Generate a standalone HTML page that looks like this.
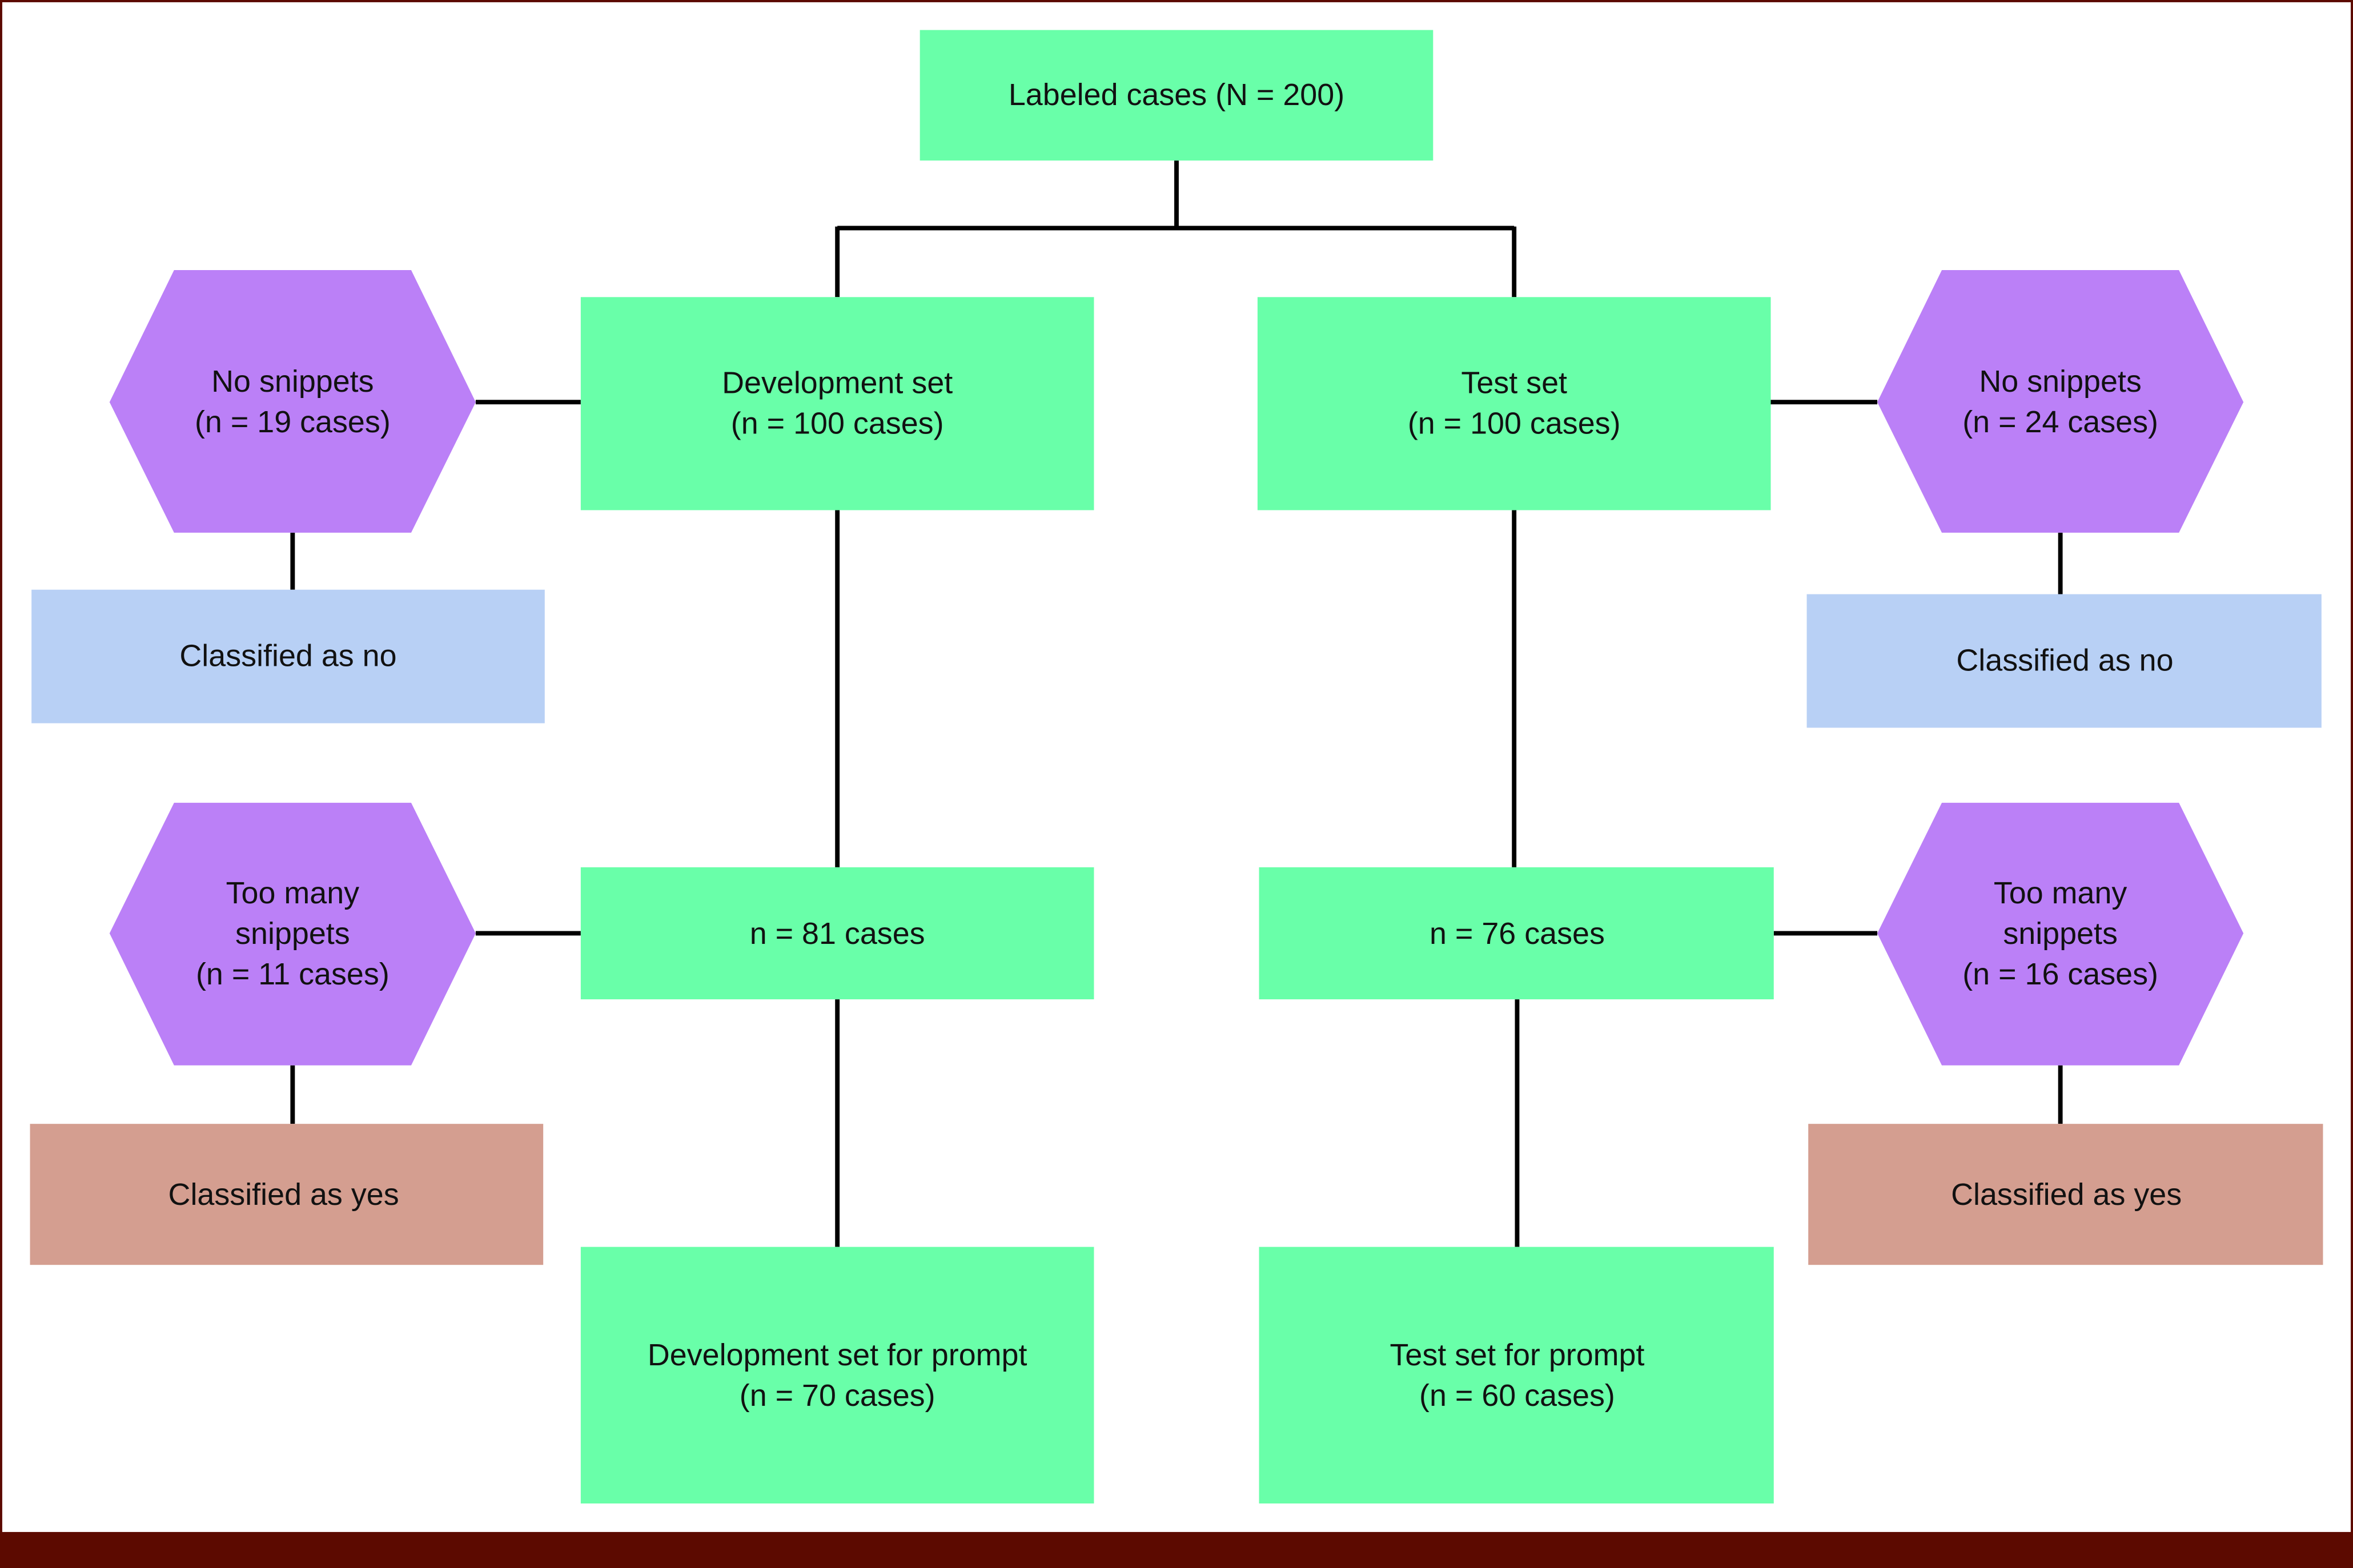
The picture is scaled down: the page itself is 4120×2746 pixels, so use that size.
<!DOCTYPE html>
<html><head><meta charset="utf-8">
<style>
html,body{margin:0;padding:0;background:#fff;}
svg{display:block;}
text{font-family:"Liberation Sans",sans-serif;font-size:20.5px;fill:#111;text-anchor:middle;}
</style></head>
<body>
<svg width="4120" height="2746" viewBox="0 0 1568 1045" preserveAspectRatio="none" xmlns="http://www.w3.org/2000/svg">
<rect x="0" y="0" width="1568" height="1045" fill="#fff"/>
<rect x="0.75" y="0.75" width="1566.5" height="1043" fill="none" stroke="#5c0a00" stroke-width="1.5"/>
<rect x="0" y="1021" width="1568" height="24" fill="#5c0a00"/>
<g stroke="#000" stroke-width="3" fill="none">
<path d="M784 107V152M558 152H1009M558 151V198M1009 151V198"/>
<path d="M317 268H387M1180 268H1251M195 355V393M1373 355V396"/>
<path d="M558 340V578M1009 340V578"/>
<path d="M317 622H387M1182 622H1251M195 710V749M1373 710V749"/>
<path d="M558 666V831M1011 666V831"/>
</g>
<g fill="#69ffa9">
<rect x="613" y="20" width="342" height="87"/>
<rect x="387" y="198" width="342" height="142"/>
<rect x="838" y="198" width="342" height="142"/>
<rect x="387" y="578" width="342" height="88"/>
<rect x="839" y="578" width="343" height="88"/>
<rect x="387" y="831" width="342" height="171"/>
<rect x="839" y="831" width="343" height="171"/>
</g>
<g fill="#bb80f7">
<polygon points="73,268 116,180 274,180 317,268 274,355 116,355"/>
<polygon points="1251,268 1294,180 1452,180 1495,268 1452,355 1294,355"/>
<polygon points="73,622 116,535 274,535 317,622 274,710 116,710"/>
<polygon points="1251,622 1294,535 1452,535 1495,622 1452,710 1294,710"/>
</g>
<rect x="21" y="393" width="342" height="89" fill="#b8d0f5"/>
<rect x="1204" y="396" width="343" height="89" fill="#b8d0f5"/>
<rect x="20" y="749" width="342" height="94" fill="#d49e90"/>
<rect x="1205" y="749" width="343" height="94" fill="#d49e90"/>

<text x="784" y="70">Labeled cases (N = 200)</text>
<text x="558" y="262">Development set</text><text x="558" y="289">(n = 100 cases)</text>
<text x="1009" y="262">Test set</text><text x="1009" y="289">(n = 100 cases)</text>
<text x="195" y="261">No snippets</text><text x="195" y="288">(n = 19 cases)</text>
<text x="1373" y="261">No snippets</text><text x="1373" y="288">(n = 24 cases)</text>
<text x="192" y="444">Classified as no</text>
<text x="1376" y="447">Classified as no</text>
<text x="195" y="602">Too many</text><text x="195" y="629">snippets</text><text x="195" y="656">(n = 11 cases)</text>
<text x="1373" y="602">Too many</text><text x="1373" y="629">snippets</text><text x="1373" y="656">(n = 16 cases)</text>
<text x="558" y="629">n = 81 cases</text>
<text x="1011" y="629">n = 76 cases</text>
<text x="189" y="803">Classified as yes</text>
<text x="1377" y="803">Classified as yes</text>
<text x="558" y="910">Development set for prompt</text><text x="558" y="937">(n = 70 cases)</text>
<text x="1011" y="910">Test set for prompt</text><text x="1011" y="937">(n = 60 cases)</text>
</svg>
</body></html>
